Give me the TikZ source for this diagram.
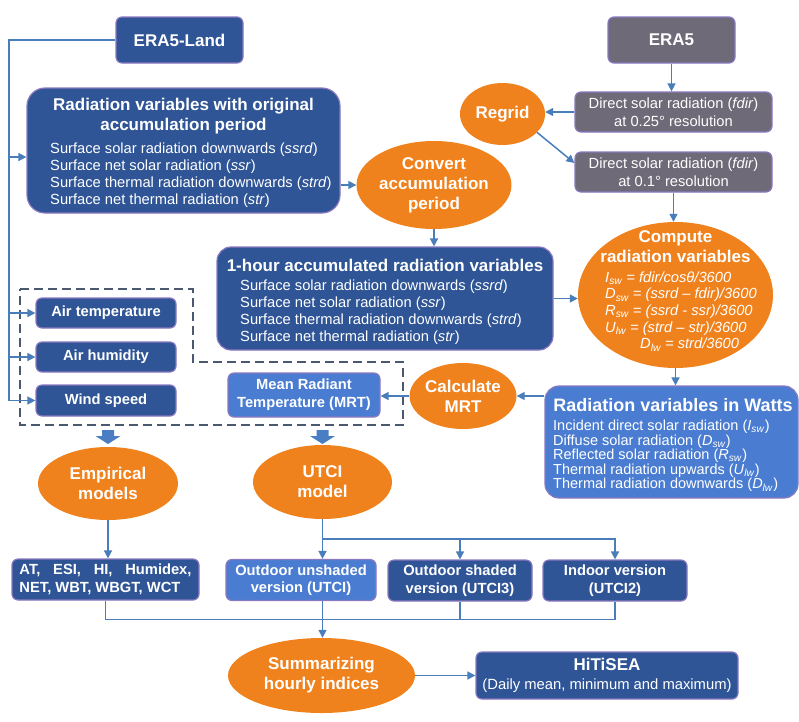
\documentclass[tikz,border=0pt]{standalone}
\usepackage{fontspec}
\setmainfont{Liberation Sans}
\usetikzlibrary{arrows.meta,shapes.geometric,calc}
\definecolor{dkblue}{HTML}{2F5597}
\definecolor{mdblue}{HTML}{4A7DD1}
\definecolor{gybox}{HTML}{6E6A78}
\definecolor{orng}{HTML}{F0821E}
\definecolor{bord}{HTML}{8A78C0}
\definecolor{lnc}{HTML}{4A7EBB}
\definecolor{dsh}{HTML}{4A5870}
\definecolor{blk}{HTML}{4A7EC4}
\newcommand\fsbody{\fontsize{14.7}{17}\selectfont\lineskiplimit=-20pt\relax}
\newcommand\fshead{\fontsize{17}{20}\selectfont\bfseries\lineskiplimit=-20pt\relax}
\newcommand\fslab{\fontsize{14.7}{17.5}\selectfont\bfseries\lineskiplimit=-20pt\relax}
\newcommand\fseq{\fontsize{14.7}{16.7}\selectfont\itshape\lineskiplimit=-20pt\relax}
\newcommand\fswatt{\fontsize{14.5}{14.6}\selectfont\lineskiplimit=-20pt\relax}
\newcommand\wsub[1]{\textsubscript{\textit{#1}}}
\begin{document}
\begin{tikzpicture}[x=1pt,y=-1pt,
 box/.style={draw=bord,line width=1.2pt,rounded corners=6pt,text=white,inner sep=0pt,align=center,font=\fslab},
 dk/.style={box,fill=dkblue},
 md/.style={box,fill=mdblue},
 gy/.style={box,fill=gybox,font=\fontsize{14.7}{18}\selectfont},
 ell/.style={ellipse,fill=orng,text=white,inner sep=0pt,align=center,font=\fshead},
 conn/.style={draw=lnc,line width=1.5pt},
 arr/.style={conn,-{Triangle[length=8pt,width=8pt]}},
 txt/.style={text=white,inner sep=0pt},
 blockarrow/.style={fill=blk},
 groupline/.style={draw=dsh,line width=2pt,dash pattern=on 9pt off 5pt},
]
\useasboundingbox (0,0) rectangle (799,721);

% --- top row
\node[dk,minimum width=127pt,minimum height=46pt,font=\fontsize{17}{20}\selectfont\bfseries] (era5land) at (179.5,40) {ERA5-Land};
\node[gy,minimum width=127pt,minimum height=46pt,font=\fontsize{17}{20}\selectfont\bfseries] (era5) at (671.5,40) {ERA5};
\node[gy,minimum width=197pt,minimum height=40pt] (fdirA) at (673.5,112) {Direct solar radiation (\textit{fdir})\\at 0.25° resolution};
\node[gy,minimum width=197pt,minimum height=40pt] (fdirB) at (673.5,172) {Direct solar radiation (\textit{fdir})\\at 0.1° resolution};
\node[ell,minimum width=85pt,minimum height=62pt] (regrid) at (502.5,114) {Regrid};
\node[ell,minimum width=138pt,minimum height=88pt] (convert) at (434,185) {Convert\\accumulation\\period};

% --- radiation with original accumulation period
\node[dk,rounded corners=18pt,minimum width=313pt,minimum height=125pt] (radorig) at (183.5,150.5) {};
\node[txt,font=\fshead,align=center] (radorigT) at (183.5,116) {Radiation variables with original\\accumulation period};
\node[txt,font=\fsbody,align=left,anchor=west] (radorigB) at (50,175) {Surface solar radiation downwards (\textit{ssrd})\\Surface net solar radiation (\textit{ssr})\\Surface thermal radiation downwards (\textit{strd})\\Surface net thermal radiation (\textit{str})};

% --- 1-hour accumulated
\node[dk,rounded corners=14pt,minimum width=336pt,minimum height=103pt] (onehour) at (385,298.5) {};
\node[txt,font=\fshead] (onehourT) at (385,265) {1-hour accumulated radiation variables};
\node[txt,font=\fsbody,align=left,anchor=west] (onehourB) at (240,312) {Surface solar radiation downwards (\textit{ssrd})\\Surface net solar radiation (\textit{ssr})\\Surface thermal radiation downwards (\textit{strd})\\Surface net thermal radiation (\textit{str})};

% --- compute ellipse
\node[ell,minimum width=195pt,minimum height=146pt] (compute) at (675.5,295) {};
\node[txt,font=\fshead,align=center] (computeT) at (675.5,247) {Compute\\radiation variables};
\node[txt,font=\fseq,align=left,anchor=west] (computeB) at (605,311.5) {I\textsubscript{sw} = fdir/cosθ/3600\\D\textsubscript{sw} = (ssrd – fdir)/3600\\R\textsubscript{sw} = (ssrd - ssr)/3600\\U\textsubscript{lw} = (strd – str)/3600\\\hspace*{35pt}D\textsubscript{lw} = strd/3600};

% --- watts
\node[md,rounded corners=14pt,minimum width=253pt,minimum height=112pt] (watts) at (671.5,442) {};
\node[txt,font=\fontsize{18}{20}\selectfont\bfseries] (wattsT) at (673,405) {Radiation variables in Watts};
\node[txt,font=\fswatt,align=left,anchor=west] (wattsB) at (553,456) {Incident direct solar radiation (\textit{I}\wsub{sw})\\Diffuse solar radiation (\textit{D}\wsub{sw})\\Reflected solar radiation (\textit{R}\wsub{sw})\\Thermal radiation upwards (\textit{U}\wsub{lw})\\Thermal radiation downwards (\textit{D}\wsub{lw})};

\node[ell,minimum width=92pt,minimum height=66pt] (calc) at (463,396) {Calculate\\MRT};
\node[md,minimum width=152pt,minimum height=44pt,font=\fontsize{14.7}{18}\selectfont\bfseries] (mrt) at (304,395) {Mean Radiant\\Temperature (MRT)};

% --- meteorological variables
\node[dk,minimum width=140pt,minimum height=30pt] (airtemp) at (106,313) {Air temperature};
\node[dk,minimum width=140pt,minimum height=30pt] (airhum) at (106,357) {Air humidity};
\node[dk,minimum width=140pt,minimum height=31pt] (wind) at (106,400.5) {Wind speed};

% --- models
\node[ell,minimum width=140pt,minimum height=73pt] (emp) at (108,483.5) {Empirical\\models};
\node[ell,minimum width=139pt,minimum height=74pt] (utci) at (322.5,482) {UTCI\\model};

% --- indices
\node[dk,minimum width=187pt,minimum height=41pt,align=left] (at) at (105.5,579.5) {\makebox[172pt][s]{AT, ESI, HI, Humidex,}\\NET, WBT, WBGT, WCT};
\node[md,minimum width=150pt,minimum height=41pt] (ous) at (301,580) {Outdoor unshaded\\version (UTCI)};
\node[dk,minimum width=144pt,minimum height=41pt] (osh) at (460,580.5) {Outdoor shaded\\version (UTCI3)};
\node[dk,minimum width=144pt,minimum height=41pt] (ind) at (615,580.5) {Indoor version\\(UTCI2)};

\node[ell,minimum width=187pt,minimum height=75pt] (summ) at (321.5,675.5) {Summarizing\\hourly indices};
\node[dk,minimum width=262pt,minimum height=47pt,font=\fontsize{14.8}{19}\selectfont] (hit) at (607,675.5) {{\fontsize{17}{19}\selectfont\bfseries HiTiSEA}\\(Daily mean, minimum and maximum)};

% --- dashed group
\coordinate (g1) at (20,289);
\coordinate (g2) at (193,289);
\coordinate (g3) at (193,362);
\coordinate (g4) at (403,362);
\coordinate (g5) at (403,425);
\coordinate (g6) at (20,425);
\draw[groupline] (g1) -- (g2) -- (g3) -- (g4) -- (g5) -- (g6) -- cycle;

% block arrows
\fill[blockarrow] ($(emp.north |- g6)+(-6,5)$) -- ++(12,0) -- ++(0,6) -- ++(6.5,0) -- ++(-12.5,8) -- ++(-12.5,-8) -- ++(6.5,0) -- cycle;
\fill[blockarrow] ($(utci.north |- g6)+(-6,5)$) -- ++(12,0) -- ++(0,6) -- ++(6.5,0) -- ++(-12.5,8) -- ++(-12.5,-8) -- ++(6.5,0) -- cycle;

% --- connectors
\coordinate (spine) at (9,40);
\draw[arr] (era5land.west) -- (spine) |- (wind.west);
\draw[arr] (spine |- airtemp.west) -- (airtemp.west);
\draw[arr] (spine |- airhum.west) -- (airhum.west);
\coordinate (radin) at ($(radorig.west)+(0,6.5)$);
\draw[arr] (spine |- radin) -- (radin);

\draw[arr] (radorig.east |- convert.west) -- (convert.west);
\draw[arr] (convert.south) -- (convert.south |- onehour.north);
\draw[arr] (era5.south) -- (era5.south |- fdirA.north);
\draw[arr] (fdirA.west) -- (fdirA.west -| regrid.east);
\draw[arr] (regrid.-28) -- ($(fdirB.west)+(0,-9)$);
\draw[arr] (fdirB.south) -- (fdirB.south |- compute.north);
\draw[arr] (onehour.east) -- (onehour.east -| compute.west);
\draw[arr] (compute.south) -- (compute.south |- watts.north);
\draw[arr] (watts.west |- calc.east) -- (calc.east);
\draw[arr] (calc.west) -- (calc.west -| mrt.east);

\draw[arr] (emp.south) -- (emp.south |- at.north);
\draw[arr] (utci.south) -- (utci.south |- ous.north);
\coordinate (split) at ($(utci.south)!0.5!(utci.south |- ous.north)$);
\draw[arr] (split) -| (osh.north);
\draw[arr] (split) -| (ind.north);
\coordinate (ousout) at (ous.south -| utci.south);
\coordinate (join) at ($(ousout)!0.5!(utci.south |- summ.north)$);
\draw[conn] (at.south) |- (join);
\draw[conn] (osh.south) |- (join);
\draw[conn] (ind.south) |- (join);
\draw[arr] (ousout) -- (utci.south |- summ.north);
\draw[arr] (summ.east) -- (summ.east -| hit.west);
\end{tikzpicture}
\end{document}
